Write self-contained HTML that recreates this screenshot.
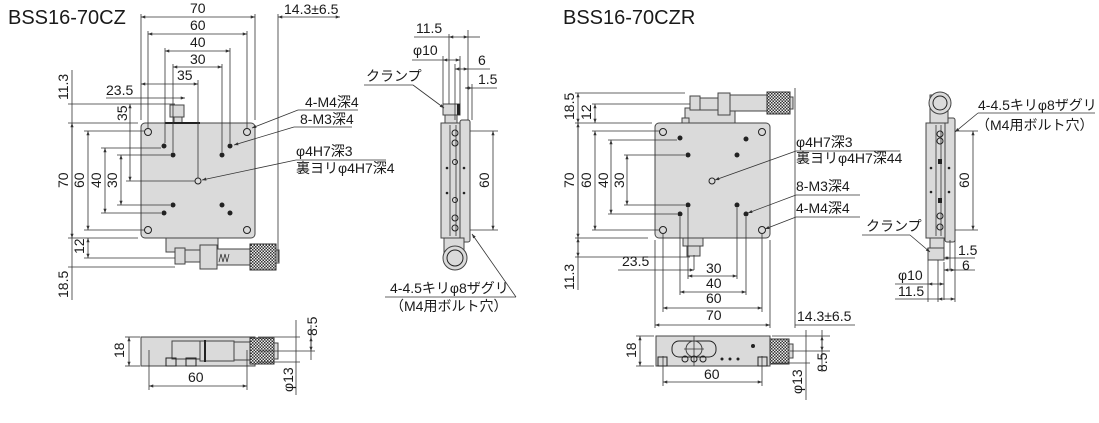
<!DOCTYPE html>
<html><head><meta charset="utf-8"><style>
html,body{margin:0;padding:0;background:#fff;width:1099px;height:423px;overflow:hidden}
svg{display:block}
text{font-family:"Liberation Sans Narrow","Liberation Sans","Noto Sans CJK JP",sans-serif;font-size:14px;fill:#1a1a1a}
.t{font-family:"Liberation Sans","Noto Sans CJK JP",sans-serif;font-size:20px}
.d{stroke:#333;stroke-width:0.8;fill:none}
.a{stroke:#333;stroke-width:0.8;fill:none;marker-start:url(#ar);marker-end:url(#ar)}
.p{fill:#dadada;stroke:#444;stroke-width:1}
.h{fill:none;stroke:#222;stroke-width:1}
.k{fill:#222}
</style></head><body>
<svg width="1099" height="423" viewBox="0 0 1099 423" xmlns="http://www.w3.org/2000/svg">
<defs>
<marker id="ar" viewBox="0 0 8 6" refX="8" refY="3" markerWidth="6" markerHeight="4" orient="auto-start-reverse"><path d="M0,0L8,3L0,6z" fill="#333"/></marker>
<pattern id="kp" width="3" height="3" patternUnits="userSpaceOnUse"><rect width="3" height="3" fill="#eee"/><rect width="1.5" height="1.5" fill="#333"/><rect x="1.5" y="1.5" width="1.5" height="1.5" fill="#333"/></pattern>
</defs>

<text class="t" x="8" y="24">BSS16-70CZ</text>
<text class="t" x="563" y="24">BSS16-70CZR</text>

<!-- ===== LEFT TOP VIEW ===== -->
<rect class="p" x="141" y="123" width="114" height="115" rx="4"/>
<rect class="p" x="170" y="105" width="14" height="12"/>
<rect class="p" x="174" y="117" width="8" height="6"/>
<line x1="165" y1="123" x2="200" y2="123" stroke="#222" stroke-width="2"/>
<rect class="p" x="166" y="238" width="52" height="14"/>
<rect class="p" x="175" y="248" width="10" height="16"/>
<rect class="p" x="185" y="250" width="15" height="12"/>
<rect class="p" x="200" y="245" width="17" height="24"/>
<rect class="p" x="217" y="249" width="33" height="16"/>
<rect x="250" y="244" width="26" height="26" fill="url(#kp)" stroke="#333"/>
<rect class="p" x="276" y="250" width="3" height="13"/>
<path d="M219,262 l2,-8 2,8 2,-8 2,8 2,-8" class="d"/>
<g class="h">
<circle cx="148" cy="132" r="3.5"/><circle cx="247" cy="132" r="3.5"/><circle cx="148" cy="230" r="3.5"/><circle cx="247" cy="230" r="3.5"/>
<circle cx="198" cy="181" r="3"/>
</g>
<g class="k">
<circle cx="164" cy="146" r="2.5"/><circle cx="173" cy="155" r="2.5"/><circle cx="222" cy="155" r="2.5"/><circle cx="230" cy="146" r="2.5"/>
<circle cx="173" cy="205" r="2.5"/><circle cx="164" cy="213" r="2.5"/><circle cx="222" cy="205" r="2.5"/><circle cx="230" cy="213" r="2.5"/>
</g>
<g class="d">
<line x1="141" y1="14" x2="141" y2="120"/><line x1="255" y1="14" x2="255" y2="120"/>
<line x1="148" y1="31" x2="148" y2="128"/><line x1="247" y1="31" x2="247" y2="128"/>
<line x1="165" y1="48" x2="165" y2="143"/><line x1="230" y1="48" x2="230" y2="143"/>
<line x1="173" y1="64" x2="173" y2="152"/><line x1="222" y1="64" x2="222" y2="152"/>
<line x1="198" y1="80" x2="198" y2="178"/>
<line x1="278" y1="14" x2="278" y2="262"/>
<line x1="68" y1="123" x2="138" y2="123"/><line x1="68" y1="238" x2="138" y2="238"/>
<line x1="84" y1="131" x2="144" y2="131"/><line x1="84" y1="230" x2="144" y2="230"/>
<line x1="101" y1="148" x2="161" y2="148"/><line x1="101" y1="213" x2="161" y2="213"/>
<line x1="117" y1="155" x2="170" y2="155"/><line x1="117" y1="205" x2="170" y2="205"/>
<line x1="68" y1="104" x2="175" y2="104"/><line x1="126" y1="181" x2="195" y2="181"/>
<line x1="84" y1="258" x2="175" y2="258"/><line x1="68" y1="267" x2="175" y2="267"/>
</g>
<line class="a" x1="141" y1="17" x2="255" y2="17"/><text x="190" y="13">70</text>
<line class="a" x1="148" y1="34" x2="247" y2="34"/><text x="190" y="30">60</text>
<line class="a" x1="165" y1="51" x2="230" y2="51"/><text x="190" y="47">40</text>
<line class="a" x1="173" y1="67" x2="222" y2="67"/><text x="190" y="64">30</text>
<line class="a" x1="141" y1="84" x2="198" y2="84"/><text x="177" y="80">35</text>
<line class="d" x1="106" y1="98" x2="185" y2="98" marker-end="url(#ar)"/><text x="106" y="95">23.5</text>
<line class="a" x1="278" y1="17" x2="340" y2="17"/><text x="284" y="14">14.3±6.5</text>
<line class="a" x1="72" y1="123" x2="72" y2="238"/>
<line class="d" x1="72" y1="70" x2="72" y2="300"/>
<line class="a" x1="88" y1="131" x2="88" y2="230"/>
<line class="a" x1="105" y1="148" x2="105" y2="213"/>
<line class="a" x1="121" y1="155" x2="121" y2="205"/>
<line class="a" x1="130" y1="104" x2="130" y2="181"/>
<line class="a" x1="88" y1="238" x2="88" y2="258"/>
<g transform="rotate(-90)">
<text x="-100" y="68">11.3</text><text x="-188" y="68">70</text><text x="-188" y="84">60</text><text x="-188" y="101">40</text><text x="-188" y="117">30</text><text x="-121" y="127">35</text><text x="-254" y="84">12</text><text x="-298" y="68">18.5</text>
</g>
<text x="305" y="107">4-M4深4</text><line class="d" x1="298" y1="110" x2="358" y2="110"/><line class="d" x1="298" y1="110" x2="252" y2="128" marker-end="url(#ar)"/>
<text x="300" y="124">8-M3深4</text><line class="d" x1="294" y1="127" x2="352" y2="127"/><line class="d" x1="294" y1="127" x2="234" y2="145" marker-end="url(#ar)"/>
<text x="296" y="156">φ4H7深3</text><text x="296" y="173">裏ヨリφ4H7深4</text><line class="d" x1="296" y1="160" x2="386" y2="160"/><line class="d" x1="296" y1="160" x2="202" y2="180" marker-end="url(#ar)"/>

<!-- ===== LEFT SIDE VIEW ===== -->
<rect class="p" x="441" y="123" width="26" height="115"/>
<rect class="p" x="460" y="120" width="10" height="122" rx="2"/>
<rect class="p" x="445" y="115" width="12" height="8"/>
<rect class="p" x="443" y="104" width="17" height="11"/>
<rect x="457" y="104" width="3" height="11" fill="#222"/>
<rect class="p" x="444" y="238" width="20" height="20"/>
<circle cx="455" cy="258" r="12" class="p"/><circle cx="455" cy="258" r="8" class="h"/>
<line class="d" x1="450" y1="125" x2="450" y2="236"/><line class="d" x1="456" y1="125" x2="456" y2="236"/>
<g class="h"><circle cx="455" cy="133" r="3"/><circle cx="455" cy="143" r="3"/><circle cx="455" cy="162" r="2.5"/><circle cx="455" cy="200" r="2.5"/><circle cx="455" cy="218" r="3"/><circle cx="455" cy="228" r="3"/></g>
<g class="k"><circle cx="447" cy="168" r="1.3"/><circle cx="464" cy="168" r="1.3"/><circle cx="447" cy="193" r="1.3"/><circle cx="464" cy="193" r="1.3"/></g>
<g class="d">
<line x1="449" y1="34" x2="449" y2="104"/><line x1="443" y1="56" x2="443" y2="104"/><line x1="460" y1="56" x2="460" y2="104"/>
<line x1="455" y1="64" x2="455" y2="120"/><line x1="468" y1="30" x2="468" y2="120"/><line x1="472" y1="84" x2="472" y2="120"/>
<line x1="470" y1="131" x2="498" y2="131"/><line x1="470" y1="230" x2="498" y2="230"/>
</g>
<line class="a" x1="449" y1="37" x2="468" y2="37"/><line class="d" x1="414" y1="37" x2="449" y2="37"/><line class="d" x1="468" y1="37" x2="480" y2="37"/><text x="416" y="33">11.5</text>
<line class="a" x1="443" y1="60" x2="460" y2="60"/><line class="d" x1="412" y1="60" x2="443" y2="60"/><text x="413" y="55">φ10</text>
<line class="a" x1="455" y1="69" x2="468" y2="69"/><line class="d" x1="468" y1="69" x2="490" y2="69"/><text x="478" y="65">6</text>
<line class="a" x1="465" y1="88" x2="472" y2="88"/><line class="d" x1="472" y1="88" x2="497" y2="88"/><text x="478" y="84">1.5</text>
<line class="a" x1="493" y1="131" x2="493" y2="230"/>
<g transform="rotate(-90)"><text x="-188" y="489">60</text></g>
<text x="366" y="81">クランプ</text><line class="d" x1="364" y1="85" x2="413" y2="85"/><line class="d" x1="413" y1="85" x2="444" y2="108" marker-end="url(#ar)"/>
<text x="390" y="293">4-4.5キリφ8ザグリ</text><line class="d" x1="385" y1="297" x2="516" y2="297"/>
<line class="d" x1="516" y1="297" x2="472" y2="234" marker-end="url(#ar)"/>
<text x="390" y="311">（M4用ボルト穴）</text>

<!-- ===== LEFT BOTTOM VIEW ===== -->
<rect class="p" x="141" y="337" width="114" height="29"/>
<rect class="p" x="172" y="341" width="30" height="18"/>
<rect class="p" x="200" y="341" width="34" height="20"/>
<line x1="205" y1="340" x2="205" y2="362" stroke="#222" stroke-width="2"/>
<rect class="p" x="234" y="342" width="21" height="18"/>
<rect x="250" y="338" width="24" height="26" fill="url(#kp)" stroke="#333"/>
<rect class="p" x="274" y="343" width="4" height="16"/>
<rect class="h" x="166" y="358" width="10" height="8"/><rect class="h" x="186" y="358" width="10" height="8"/>
<g class="d">
<line x1="149" y1="350" x2="149" y2="390"/><line x1="247" y1="350" x2="247" y2="390"/>
<line x1="125" y1="337" x2="140" y2="337"/><line x1="125" y1="366" x2="140" y2="366"/>
<line x1="258" y1="337" x2="300" y2="337"/><line x1="258" y1="351" x2="315" y2="351"/><line x1="258" y1="362" x2="300" y2="362"/>
<line x1="296" y1="320" x2="296" y2="395"/>
</g>
<line class="a" x1="129" y1="337" x2="129" y2="366"/>
<line class="a" x1="149" y1="386" x2="247" y2="386"/><text x="188" y="382">60</text>
<line class="a" x1="311" y1="337" x2="311" y2="351"/><line class="d" x1="311" y1="325" x2="311" y2="360"/>
<g transform="rotate(-90)"><text x="-358" y="124">18</text><text x="-336" y="317">8.5</text><text x="-392" y="293">φ13</text></g>

<!-- ===== RIGHT TOP VIEW ===== -->
<rect class="p" x="655" y="123" width="115" height="115" rx="4"/>
<rect class="p" x="685" y="108" width="50" height="15"/>
<rect class="p" x="690" y="96" width="10" height="14"/>
<rect class="p" x="700" y="98" width="18" height="12"/>
<rect class="p" x="718" y="93" width="12" height="22"/>
<rect class="p" x="730" y="95" width="37" height="16"/>
<rect x="767" y="92" width="23" height="22" fill="url(#kp)" stroke="#333"/>
<rect class="p" x="790" y="97" width="3" height="12"/>
<rect class="p" x="682" y="118" width="7" height="5"/>
<rect class="p" x="687" y="246" width="13" height="10"/>
<rect class="p" x="683" y="238" width="20" height="8"/>
<g class="h">
<circle cx="663" cy="132" r="3.5"/><circle cx="762" cy="132" r="3.5"/><circle cx="663" cy="230" r="3.5"/><circle cx="762" cy="230" r="3.5"/>
<circle cx="712" cy="181" r="3"/>
</g>
<g class="k">
<circle cx="680" cy="138" r="2.5"/><circle cx="688" cy="155" r="2.5"/><circle cx="737" cy="155" r="2.5"/><circle cx="746" cy="139" r="2.5"/>
<circle cx="688" cy="205" r="2.5"/><circle cx="680" cy="214" r="2.5"/><circle cx="737" cy="205" r="2.5"/><circle cx="746" cy="214" r="2.5"/>
</g>
<g class="d">
<line x1="575" y1="93" x2="685" y2="93"/><line x1="592" y1="104" x2="690" y2="104"/>
<line x1="575" y1="123" x2="652" y2="123"/><line x1="575" y1="238" x2="648" y2="238"/>
<line x1="592" y1="131" x2="660" y2="131"/><line x1="592" y1="230" x2="660" y2="230"/>
<line x1="608" y1="140" x2="677" y2="140"/><line x1="608" y1="214" x2="677" y2="214"/>
<line x1="624" y1="155" x2="685" y2="155"/><line x1="624" y1="205" x2="685" y2="205"/>
<line x1="575" y1="257" x2="690" y2="257"/>
<line x1="655" y1="240" x2="655" y2="328"/><line x1="770" y1="240" x2="770" y2="328"/>
<line x1="663" y1="233" x2="663" y2="312"/><line x1="762" y1="233" x2="762" y2="312"/>
<line x1="680" y1="217" x2="680" y2="295"/><line x1="746" y1="217" x2="746" y2="295"/>
<line x1="688" y1="208" x2="688" y2="279"/><line x1="737" y1="208" x2="737" y2="279"/>
<line x1="694" y1="255" x2="694" y2="270"/>
<line x1="795" y1="88" x2="795" y2="328"/>
</g>
<line class="a" x1="578" y1="93" x2="578" y2="123"/><line class="d" x1="578" y1="123" x2="578" y2="290"/>
<line class="a" x1="595" y1="104" x2="595" y2="123"/>
<line class="a" x1="578" y1="123" x2="578" y2="238"/>
<line class="a" x1="595" y1="131" x2="595" y2="230"/>
<line class="a" x1="611" y1="140" x2="611" y2="214"/>
<line class="a" x1="627" y1="155" x2="627" y2="205"/>
<line class="a" x1="578" y1="238" x2="578" y2="257"/>
<g transform="rotate(-90)">
<text x="-120" y="574">18.5</text><text x="-120" y="591">12</text><text x="-188" y="574">70</text><text x="-188" y="591">60</text><text x="-188" y="608">40</text><text x="-188" y="624">30</text><text x="-290" y="574">11.3</text>
</g>
<line class="d" x1="618" y1="270" x2="694" y2="270" marker-end="url(#ar)"/><text x="622" y="266">23.5</text>
<line class="a" x1="688" y1="276" x2="737" y2="276"/><text x="706" y="273">30</text>
<line class="a" x1="680" y1="292" x2="746" y2="292"/><text x="706" y="288">40</text>
<line class="a" x1="663" y1="308" x2="762" y2="308"/><text x="706" y="303">60</text>
<line class="a" x1="655" y1="325" x2="770" y2="325"/><text x="706" y="320">70</text>
<line class="d" x1="795" y1="325" x2="855" y2="325"/><text x="797" y="321">14.3±6.5</text>
<text x="796" y="147">φ4H7深3</text><text x="796" y="163">裏ヨリφ4H7深44</text><line class="d" x1="796" y1="151" x2="900" y2="151"/><line class="d" x1="796" y1="151" x2="715" y2="180" marker-end="url(#ar)"/>
<text x="796" y="191">8-M3深4</text><line class="d" x1="796" y1="195" x2="860" y2="195"/><line class="d" x1="796" y1="195" x2="748" y2="213" marker-end="url(#ar)"/>
<text x="796" y="213">4-M4深4</text><line class="d" x1="796" y1="217" x2="860" y2="217"/><line class="d" x1="796" y1="217" x2="765" y2="229" marker-end="url(#ar)"/>

<!-- ===== RIGHT SIDE VIEW ===== -->
<rect class="p" x="926" y="123" width="27" height="115"/>
<rect class="p" x="945" y="118" width="10" height="124" rx="2"/>
<rect class="p" x="930" y="95" width="18" height="28"/>
<circle cx="940" cy="103" r="11" class="p"/><circle cx="940" cy="103" r="7" class="h"/>
<rect class="p" x="930" y="238" width="14" height="10"/>
<rect class="p" x="928" y="248" width="16" height="12"/>
<line class="d" x1="936" y1="125" x2="936" y2="236"/><line class="d" x1="941" y1="125" x2="941" y2="236"/>
<g class="h"><circle cx="940" cy="134" r="3"/><circle cx="940" cy="141" r="3"/><circle cx="940" cy="216" r="3"/><circle cx="940" cy="227" r="3"/></g>
<g class="k"><rect x="938" y="159" width="4" height="5"/><rect x="938" y="198" width="4" height="5"/><circle cx="931" cy="168" r="1.3"/><circle cx="949" cy="168" r="1.3"/><circle cx="931" cy="192" r="1.3"/><circle cx="949" cy="192" r="1.3"/></g>
<g class="d">
<line x1="955" y1="131" x2="978" y2="131"/><line x1="955" y1="230" x2="978" y2="230"/>
<line x1="928" y1="260" x2="928" y2="302"/><line x1="938" y1="260" x2="938" y2="302"/><line x1="944" y1="262" x2="944" y2="300"/>
<line x1="950" y1="240" x2="950" y2="270"/><line x1="955" y1="240" x2="955" y2="302"/>
</g>
<line class="a" x1="973" y1="131" x2="973" y2="230"/><g transform="rotate(-90)"><text x="-188" y="969">60</text></g>
<line class="a" x1="944" y1="258" x2="950" y2="258"/><line class="d" x1="950" y1="258" x2="975" y2="258"/><text x="958" y="255">1.5</text>
<line class="a" x1="944" y1="270" x2="955" y2="270"/><line class="d" x1="955" y1="270" x2="975" y2="270"/><text x="962" y="270">6</text>
<line class="a" x1="928" y1="284" x2="944" y2="284"/><line class="d" x1="895" y1="284" x2="928" y2="284"/><text x="898" y="280">φ10</text>
<line class="a" x1="938" y1="299" x2="955" y2="299"/><line class="d" x1="895" y1="299" x2="938" y2="299"/><text x="898" y="296">11.5</text>
<text x="866" y="231">クランプ</text><line class="d" x1="862" y1="235" x2="910" y2="235"/><line class="d" x1="910" y1="235" x2="930" y2="252" marker-end="url(#ar)"/>
<text x="978" y="110">4-4.5キリφ8ザグリ</text><text x="976" y="130">（M4用ボルト穴）</text>
<line class="d" x1="978" y1="113" x2="1095" y2="113"/><line class="d" x1="978" y1="113" x2="955" y2="132" marker-end="url(#ar)"/>

<!-- ===== RIGHT BOTTOM VIEW ===== -->
<rect class="p" x="656" y="336" width="114" height="30"/>
<rect class="h" x="672" y="341" width="44" height="16" rx="7"/>
<circle cx="694" cy="349" r="8" class="p"/><line class="d" x1="694" y1="336" x2="694" y2="366"/><line class="d" x1="684" y1="349" x2="704" y2="349"/>
<g class="h"><circle cx="685" cy="359" r="3"/><circle cx="694" cy="359" r="3"/><circle cx="703" cy="359" r="3"/></g>
<g class="k"><circle cx="722" cy="359" r="1.5"/><circle cx="730" cy="359" r="1.5"/><circle cx="738" cy="359" r="1.5"/><circle cx="753" cy="346" r="2"/></g>
<rect class="h" x="658" y="357" width="9" height="9"/><rect class="h" x="758" y="357" width="9" height="9"/>
<rect x="770" y="339" width="19" height="25" fill="url(#kp)" stroke="#333"/>
<rect class="p" x="789" y="344" width="4" height="14"/>
<g class="d">
<line x1="663" y1="356" x2="663" y2="386"/><line x1="762" y1="356" x2="762" y2="386"/>
<line x1="636" y1="336" x2="654" y2="336"/><line x1="636" y1="366" x2="654" y2="366"/>
<line x1="772" y1="336" x2="830" y2="336"/><line x1="790" y1="351" x2="830" y2="351"/><line x1="772" y1="363" x2="810" y2="363"/>
<line x1="806" y1="330" x2="806" y2="400"/><line x1="822" y1="330" x2="822" y2="372"/>
</g>
<line class="a" x1="640" y1="336" x2="640" y2="366"/>
<line class="a" x1="663" y1="382" x2="762" y2="382"/><text x="704" y="379">60</text>
<line class="a" x1="822" y1="336" x2="822" y2="351"/>
<g transform="rotate(-90)"><text x="-358" y="636">18</text><text x="-372" y="827">8.5</text><text x="-394" y="802">φ13</text></g>
</svg>
</body></html>
